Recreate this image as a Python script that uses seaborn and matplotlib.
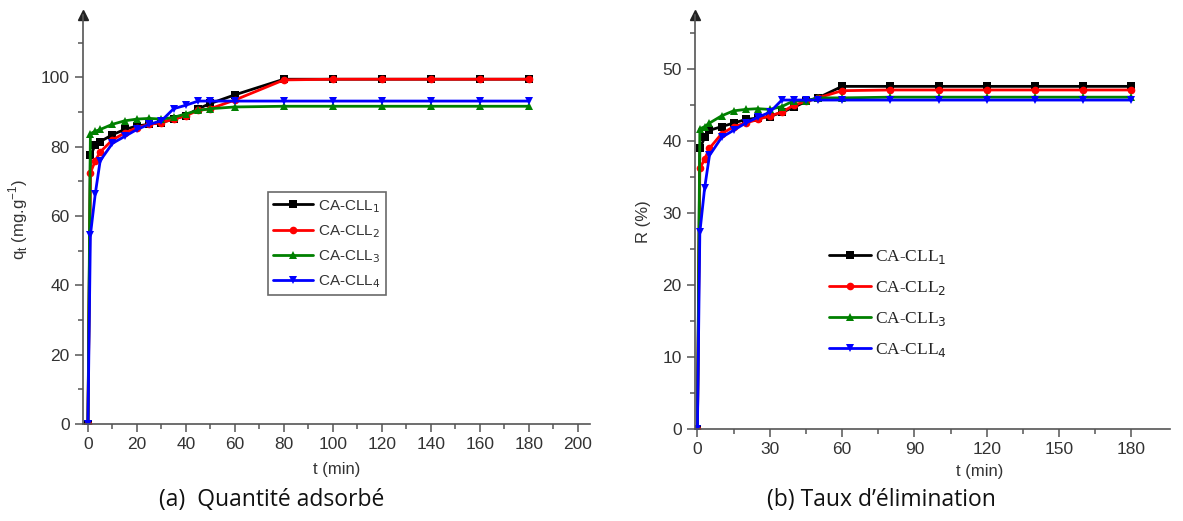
import numpy as np
import pandas as pd
import matplotlib.pyplot as plt
from matplotlib.lines import Line2D
import seaborn as sns

sns.set_style("white")
plt.rcParams["font.family"] = ["Liberation Sans", "DejaVu Sans"]

# ---- data ----
labels = ["CA-CLL$_1$", "CA-CLL$_2$", "CA-CLL$_3$", "CA-CLL$_4$"]
colors = ["#000000", "#ff0000", "#008000", "#0000ff"]
markers = ["s", "o", "^", "v"]

t_min = [0, 1, 3, 5, 10, 15, 20, 25, 30, 35, 40, 45, 50, 60, 80, 100, 120, 140, 160, 180]

# (a) adsorbed quantity q_t (mg/g)
q_cll1 = [0, 77.5, 80.5, 81.5, 83.5, 85, 86, 86.5, 87, 88, 89, 91, 92.5, 95, 99.5, 99.5, 99.5, 99.5, 99.5, 99.5]
q_cll2 = [0, 72.5, 76, 78.5, 82, 84, 85.5, 86.5, 87, 88, 89, 90.5, 91, 93.5, 99.3, 99.5, 99.5, 99.5, 99.5, 99.5]
q_cll3 = [0, 83.8, 84.5, 85, 86.5, 87.5, 88, 88.2, 88, 88.5, 89.5, 90.5, 91, 91.5, 91.7, 91.7, 91.7, 91.7, 91.7, 91.7]
q_cll4 = [0, 54.5, 66.5, 76, 81, 83, 85, 86.5, 87.5, 91, 92, 93.2, 93.2, 93.2, 93.2, 93.2, 93.2, 93.2, 93.2, 93.2]

# (b) removal rate R (%)
r_cll1 = [0, 39, 40.5, 41.5, 42, 42.5, 43, 43.2, 43.4, 44, 44.7, 45.5, 46, 47.6, 47.6, 47.6, 47.6, 47.6, 47.6, 47.6]
r_cll2 = [0, 36.2, 37.5, 39, 41, 42, 42.5, 43, 43.5, 44, 45, 45.5, 46, 47, 47.1, 47.1, 47.1, 47.1, 47.1, 47.1]
r_cll3 = [0, 41.7, 42, 42.5, 43.5, 44.2, 44.4, 44.5, 44.4, 44.8, 45.6, 45.6, 46, 46, 46.1, 46.1, 46.1, 46.1, 46.1, 46.1]
r_cll4 = [0, 27.3, 33.5, 38, 40.5, 41.5, 42.5, 43.3, 44, 45.7, 45.7, 45.7, 45.7, 45.7, 45.7, 45.7, 45.7, 45.7, 45.7, 45.7]


def long_df(series):
    rows = []
    for lab, vals in zip(labels, series):
        rows.append(pd.DataFrame({"t": t_min, "y": vals, "sample": lab}))
    return pd.concat(rows, ignore_index=True)


df_a = long_df([q_cll1, q_cll2, q_cll3, q_cll4])
df_b = long_df([r_cll1, r_cll2, r_cll3, r_cll4])

fig = plt.figure(figsize=(11.83, 5.21), dpi=100)
ax1 = fig.add_axes([0.0702, 0.186, 0.4285, 0.785])
ax2 = fig.add_axes([0.5875, 0.1766, 0.4015, 0.7944])

spine_col = "#555555"
tick_col = "#333333"

for ax, df in [(ax1, df_a), (ax2, df_b)]:
    sns.lineplot(data=df, x="t", y="y", hue="sample", style="sample",
                 palette=colors, markers=markers, dashes=False,
                 estimator=None, sort=True, linewidth=2, markersize=5.5,
                 markeredgewidth=0, legend=False, ax=ax)
    for s in ["top", "right"]:
        ax.spines[s].set_visible(False)
    for s in ["left", "bottom"]:
        ax.spines[s].set_color(spine_col)
        ax.spines[s].set_linewidth(1.2)
    ax.tick_params(which="major", direction="out", length=6, width=1.1,
                   color=spine_col, labelcolor=tick_col, labelsize=12.5,
                   left=True, bottom=True)
    ax.tick_params(which="minor", direction="out", length=3.5, width=1.1,
                   color=spine_col, left=True, bottom=True)
    # arrow at the top of the y axis
    ax.plot([0], [1], marker="^", markersize=7, color="#222222",
            transform=ax.transAxes, clip_on=False)

# panel (a)
ax1.set_xlim(-2, 205)
ax1.set_ylim(0, 118)
ax1.set_xticks(np.arange(0, 201, 20))
ax1.set_xticks(np.arange(10, 201, 20), minor=True)
ax1.set_yticks(np.arange(0, 101, 20))
ax1.set_yticks(np.arange(10, 111, 20), minor=True)
ax1.set_xlabel("t (min)", fontsize=12, color=tick_col, labelpad=7)
ax1.set_ylabel("q$_\\mathregular{t}$ (mg.g$^\\mathregular{-1}$)", fontsize=12, color=tick_col, labelpad=8)

handles = [Line2D([], [], color=c, marker=m, lw=2, markersize=5.5, markeredgewidth=0)
           for c, m in zip(colors, markers)]
leg1 = ax1.legend(handles, labels, loc="upper left", bbox_to_anchor=(0.35, 0.585),
                  frameon=True, fancybox=False, fontsize=11, handlelength=2.6,
                  handletextpad=0.3, labelspacing=0.55, borderpad=0.35)
leg1.get_frame().set_edgecolor("#444444")
leg1.get_frame().set_linewidth(1.2)
for txt in leg1.get_texts():
    txt.set_color(tick_col)

# panel (b)
ax2.set_xlim(-1, 196)
ax2.set_ylim(0, 57.5)
ax2.set_xticks(np.arange(0, 181, 30))
ax2.set_xticks(np.arange(15, 181, 30), minor=True)
ax2.set_yticks(np.arange(0, 51, 10))
ax2.set_yticks(np.arange(5, 56, 10), minor=True)
ax2.set_xlabel("t (min)", fontsize=12, color=tick_col)
ax2.xaxis.set_label_coords(0.6, -0.085)
ax2.set_ylabel("R (%)", fontsize=12, color=tick_col, labelpad=8)

leg2 = ax2.legend(handles, labels, loc="upper left", bbox_to_anchor=(0.25, 0.475),
                  frameon=False, handlelength=2.4, handletextpad=0.2,
                  labelspacing=0.75, prop={"family": "Liberation Serif", "size": 12.5})
for txt in leg2.get_texts():
    txt.set_color("#222222")

# captions
fig.text(0.23, 0.04, "(a)  Quantité adsorbé", ha="center", va="center",
         fontsize=16.5, family="Open Sans", color="#111111")
fig.text(0.745, 0.04, "(b) Taux d’élimination", ha="center", va="center",
         fontsize=16.5, family="Open Sans", color="#111111")

fig.savefig("out.png", dpi=100)
